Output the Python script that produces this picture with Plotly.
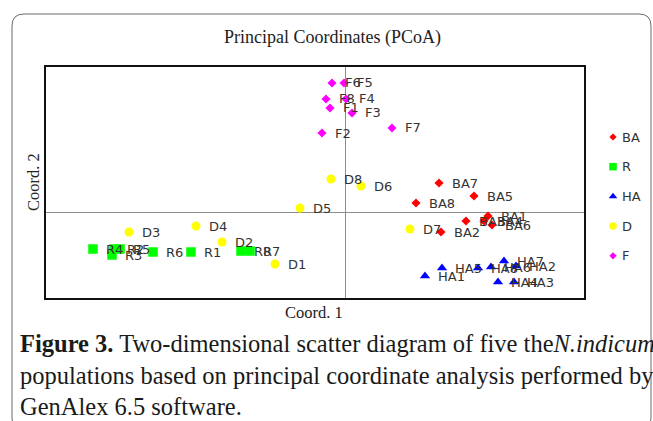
import plotly.graph_objects as go

W, H = 653, 421

# ---------------- data (Coord. 1, Coord. 2) ----------------
groups = ["BA", "R", "HA", "D", "F"]

ba_labels = ["BA1", "BA2", "BA3", "BA4", "BA5", "BA6", "BA7", "BA8"]
ba_x = [1.43, 0.96, 1.21, 1.39, 1.29, 1.47, 0.94, 0.71]
ba_y = [-0.04, -0.20, -0.09, -0.09, 0.16, -0.13, 0.29, 0.09]

r_labels = ["R1", "R2", "R3", "R4", "R5", "R6", "R7", "R8"]
r_x = [-1.54, -2.31, -2.33, -2.52, -2.25, -1.92, -0.95, -1.04]
r_y = [-0.40, -0.37, -0.43, -0.37, -0.37, -0.40, -0.39, -0.39]

ha_labels = ["HA1", "HA2", "HA3", "HA4", "HA5", "HA6", "HA7", "HA8"]
ha_x = [0.80, 1.71, 1.69, 1.53, 0.97, 1.46, 1.59, 1.33]
ha_y = [-0.64, -0.54, -0.70, -0.70, -0.56, -0.55, -0.49, -0.56]

d_labels = ["D1", "D2", "D3", "D4", "D5", "D6", "D7", "D8"]
d_x = [-0.70, -1.23, -2.16, -1.49, -0.45, 0.16, 0.65, -0.14]
d_y = [-0.52, -0.30, -0.20, -0.14, 0.04, 0.26, -0.17, 0.33]

f_labels = ["F1", "F2", "F3", "F4", "F5", "F6", "F7", "F8"]
f_x = [-0.15, -0.23, 0.07, 0.01, -0.01, -0.13, 0.47, -0.19]
f_y = [1.04, 0.79, 0.99, 1.13, 1.29, 1.29, 0.84, 1.13]

series = {
    "BA": (ba_labels, ba_x, ba_y),
    "R": (r_labels, r_x, r_y),
    "HA": (ha_labels, ha_x, ha_y),
    "D": (d_labels, d_x, d_y),
    "F": (f_labels, f_x, f_y),
}

# ---------------- styles ----------------
colors = {"BA": "#FF0000", "R": "#00FF00", "HA": "#0000FF", "D": "#FFFF00", "F": "#FF00FF"}
symbols = {"BA": "diamond", "R": "square", "HA": "triangle-up", "D": "circle", "F": "diamond"}
sizes = {"BA": 7, "R": 9.5, "HA": 9, "D": 9, "F": 7}
leg_sizes = {"BA": 5.5, "R": 7.5, "HA": 7.5, "D": 7.5, "F": 5.5}

LABEL_FONT = dict(family="DejaVu Sans", size=13, color="#333333")
SERIF = "Liberation Serif"


def px_x(p):
    return p / W


def px_y(p):
    return 1 - p / H


fig = go.Figure()

annotations = []
for g in groups:
    labels, xs, ys = series[g]
    fig.add_trace(go.Scatter(
        x=xs, y=ys, mode="markers", name=g, showlegend=False,
        marker=dict(symbol=symbols[g], size=sizes[g], color=colors[g], line=dict(width=0)),
        xaxis="x", yaxis="y", cliponaxis=False,
    ))
    for lab, xv, yv in zip(labels, xs, ys):
        annotations.append(dict(
            x=xv, y=yv, xref="x", yref="y", text=lab, showarrow=False,
            xanchor="left", yanchor="middle", xshift=11, font=LABEL_FONT,
        ))

# ---------------- manual legend ----------------
LEG_X0, LEG_Y0, LEG_DY = 613, 137, 29.7
for i, g in enumerate(groups):
    fig.add_trace(go.Scatter(
        x=[LEG_X0], y=[LEG_Y0 + LEG_DY * i], mode="markers", showlegend=False,
        marker=dict(symbol=symbols[g], size=leg_sizes[g], color=colors[g], line=dict(width=0)),
        xaxis="x2", yaxis="y2", cliponaxis=False, hoverinfo="skip",
    ))
    annotations.append(dict(
        x=LEG_X0 + 7, y=LEG_Y0 + LEG_DY * i, xref="x2", yref="y2", text=g,
        showarrow=False, xanchor="left", yanchor="middle", font=LABEL_FONT,
    ))

# ---------------- titles & caption ----------------
annotations.append(dict(x=px_x(332), y=px_y(38), xref="paper", yref="paper",
                        text="Principal Coordinates (PCoA)", showarrow=False,
                        xanchor="center", yanchor="middle",
                        font=dict(family=SERIF, size=18, color="#222222")))
annotations.append(dict(x=px_x(314), y=px_y(312), xref="paper", yref="paper",
                        text="Coord. 1", showarrow=False, xanchor="center", yanchor="middle",
                        font=dict(family=SERIF, size=16.5, color="#222222")))
annotations.append(dict(x=px_x(33), y=px_y(182), xref="paper", yref="paper",
                        text="Coord. 2", showarrow=False, xanchor="center", yanchor="middle",
                        textangle=-90, font=dict(family=SERIF, size=16.5, color="#222222")))

caption_lines = [
    "<b>Figure 3.</b> Two-dimensional scatter diagram of five the<i>N.indicum</i>",
    "populations based on principal coordinate analysis performed by",
    "GenAlex 6.5 software.",
]
caption_y = [343, 375, 406]
for line, cy in zip(caption_lines, caption_y):
    annotations.append(dict(x=px_x(18), y=px_y(cy), xref="paper", yref="paper",
                            text=line, showarrow=False, xanchor="left", yanchor="middle",
                            font=dict(family=SERIF, size=24.5, color="#1a1a1a")))

# ---------------- outer rounded frame ----------------
L, T, R_, B, rad = 12, 14, 651, 430, 12
path = (
    f"M {px_x(L)},{px_y(T + rad)} "
    f"Q {px_x(L)},{px_y(T)} {px_x(L + rad)},{px_y(T)} "
    f"L {px_x(R_ - rad)},{px_y(T)} "
    f"Q {px_x(R_)},{px_y(T)} {px_x(R_)},{px_y(T + rad)} "
    f"L {px_x(R_)},{px_y(B - rad)} "
    f"Q {px_x(R_)},{px_y(B)} {px_x(R_ - rad)},{px_y(B)} "
    f"L {px_x(L + rad)},{px_y(B)} "
    f"Q {px_x(L)},{px_y(B)} {px_x(L)},{px_y(B - rad)} Z"
)
shapes = [dict(type="path", xref="paper", yref="paper", path=path,
               line=dict(color="#6a6a6a", width=1), fillcolor="rgba(0,0,0,0)", layer="below")]

PLOT_L, PLOT_R, PLOT_T, PLOT_B = 46, 584, 67, 298

fig.update_layout(
    width=W, height=H,
    margin=dict(l=0, r=0, t=0, b=0),
    paper_bgcolor="white", plot_bgcolor="white",
    showlegend=False,
    xaxis=dict(domain=[px_x(PLOT_L), px_x(PLOT_R)], range=[-2.99, 2.39],
               showgrid=False, showticklabels=False, ticks="",
               zeroline=True, zerolinecolor="#8c8c8c", zerolinewidth=1,
               showline=True, mirror=True, linecolor="#111111", linewidth=2),
    yaxis=dict(domain=[px_y(PLOT_B), px_y(PLOT_T)], range=[-0.86, 1.45],
               showgrid=False, showticklabels=False, ticks="",
               zeroline=True, zerolinecolor="#8c8c8c", zerolinewidth=1,
               showline=True, mirror=True, linecolor="#111111", linewidth=2),
    xaxis2=dict(domain=[px_x(588), px_x(650)], range=[588, 650], visible=False, anchor="y2"),
    yaxis2=dict(domain=[px_y(PLOT_B), px_y(PLOT_T)], range=[PLOT_B, PLOT_T], visible=False, anchor="x2"),
    annotations=annotations,
    shapes=shapes,
)

fig.write_html(
    "out.html",
    config={"displayModeBar": False},
    post_script="document.body.style.margin='0';document.body.style.overflow='hidden';",
)
